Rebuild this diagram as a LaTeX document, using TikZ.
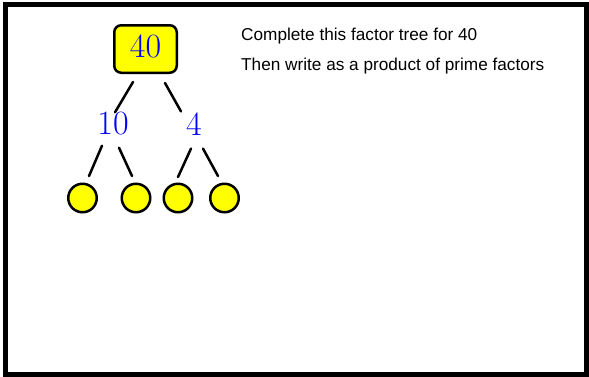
\documentclass[tikz,border=0pt]{standalone}
\usepackage{fontspec}
\newfontfamily\instrfont{Liberation Sans}
\definecolor{numblue}{RGB}{0,0,255}
\definecolor{fillyellow}{RGB}{255,255,0}
\tikzset{
  frame/.style={draw=black,line width=5pt},
  numfont/.style={font=\fontsize{34}{40}\selectfont,text=numblue},
  topbox/.style={draw=black,fill=fillyellow,line width=2.5pt,rounded corners=7pt,
    minimum width=62.5pt,minimum height=47.5pt,inner sep=0pt,text depth=6pt,numfont},
  numlabel/.style={inner sep=0pt,numfont},
  leaf/.style={circle,draw=black,fill=fillyellow,line width=2.5pt,minimum size=28.5pt,inner sep=0pt},
  branch/.style={draw=black,line width=2.5pt,line cap=round},
  instr/.style={font=\instrfont\fontsize{17.2}{20}\selectfont,anchor=base west,inner sep=0pt}
}
\begin{document}
\begin{tikzpicture}[x=1pt,y=-1pt]
\useasboundingbox (0,0) rectangle (589,376);
\fill[white] (0,0) rectangle (589,376);
\draw[frame] (5.5,4.5) rectangle (586.5,374.5);
\node[topbox] (n40) at (145.5,49) {40};
\node[numlabel] (n10) at (113,124) {10};
\node[numlabel] (n4) at (194,124) {4};
\node[leaf] (c1) at (82.5,198) {};
\node[leaf] (c2) at (136,198) {};
\node[leaf] (c3) at (178,198) {};
\node[leaf] (c4) at (224.5,198) {};
\draw[branch] ([xshift=-12.5pt,yshift=-8pt]n40.south) -- ([xshift=2pt,yshift=0pt]n10.north);
\draw[branch] ([xshift=19.5pt,yshift=-9pt]n40.south) -- ([xshift=-13pt,yshift=1pt]n4.north);
\draw[branch] ([xshift=-11pt,yshift=-10pt]n10.south) -- ([xshift=6.5pt,yshift=6.5pt]c1.north);
\draw[branch] ([xshift=6pt,yshift=-12pt]n10.south) -- ([xshift=-4pt,yshift=6.5pt]c2.north);
\draw[branch] ([xshift=-3pt,yshift=-13pt]n4.south) -- ([xshift=0pt,yshift=5.5pt]c3.north);
\draw[branch] ([xshift=9pt,yshift=-13pt]n4.south) -- ([xshift=-6.5pt,yshift=6.5pt]c4.north);
\node[instr] (t1) at (241,40.5) {Complete this factor tree for 40};
\node[instr] (t2) at (241,70) {Then write as a product of prime factors};
\end{tikzpicture}
\end{document}
